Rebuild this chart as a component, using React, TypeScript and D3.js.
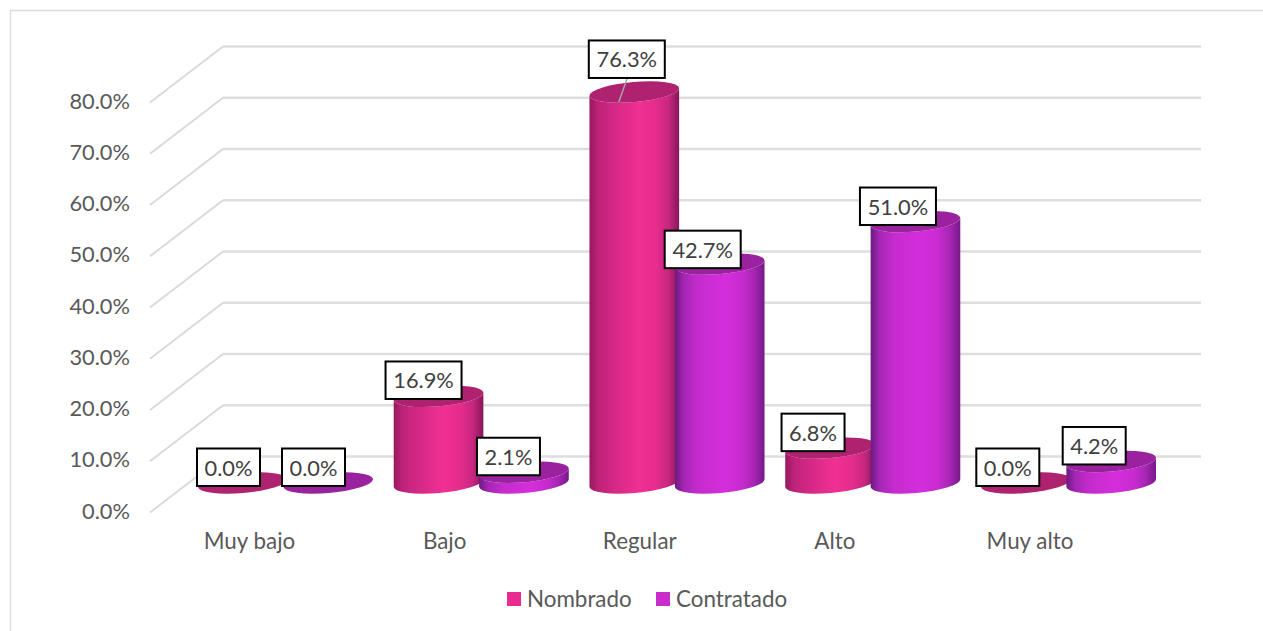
import React from "react";
import * as d3 from "d3";

const categories = ["Muy bajo", "Bajo", "Regular", "Alto", "Muy alto"];
const nombrado = [0.0, 16.9, 76.3, 6.8, 0.0];
const contratado = [0.0, 2.1, 42.7, 51.0, 4.2];
const tickValues = [0, 10, 20, 30, 40, 50, 60, 70, 80];
const seriesNames = ["Nombrado", "Contratado"];

// Hand-placed data label offsets from each cylinder's top centre [dx, dy].
const nombradoLabelOffset: [number, number][] = [[-14.3, -16], [-15, -16.4], [-7.5, -33], [-17, -16], [-18, -16]];
const contratadoLabelOffset: [number, number][] = [[-14.7, -16], [-15.5, -16], [-17, -15], [-17.5, -15.6], [-17, -16]];

const palettes = [
  { id: "pink", stops: ["#96195F", "#BE2379", "#D22784", "#F03093", "#E42C8C", "#C92680", "#851858"], top: "#AE226F", swatch: "#E92A8F" },
  { id: "purple", stops: ["#6C1A80", "#A426B4", "#C42BCC", "#D42EDC", "#C82BD0", "#A826B4", "#76198A"], top: "#9A229E", swatch: "#C92CCB" },
];
const stopOffsets = [0, 0.1, 0.25, 0.55, 0.75, 0.88, 1];

const FRONT_X = 150;
const BACK_X = 223;
const RIGHT_X = 1201;
const DEPTH_Y = 56;
const BASE_Y = 483;
const RX = 45;
const RY = 10;
const TILT = -5;
const BAR_OFFSET = 42.7;

const FONT = "Lato, Carlito, sans-serif";
const NUM_SIZE = 21.8;
const TEXT_SIZE = 22.4;

const y = d3.scaleLinear().domain([0, 80]).range([456.5, 46.5]);
const xCat = d3.scalePoint<string>().domain(categories).range([285.5, 1068.5]);
const xCatLabel = d3.scalePoint<string>().domain(categories).range([249.5, 1030]);

const tiltRad = (TILT * Math.PI) / 180;
const dx = RX * Math.cos(tiltRad);
const dy = RX * Math.sin(tiltRad);

function Cylinder({ cx, value, p }: { cx: number; value: number; p: (typeof palettes)[number] }) {
  const h = y(0) - y(value);
  const top = BASE_Y - h;
  const arc = (sweep: number, ex: number, ey: number) => `A${RX},${RY} ${TILT} 0 ${sweep} ${ex},${ey}`;
  const body =
    `M${cx - dx},${top - dy} L${cx - dx},${BASE_Y - dy} ` +
    arc(0, cx + dx, BASE_Y + dy) +
    ` L${cx + dx},${top + dy} ` +
    arc(1, cx - dx, top - dy) +
    " Z";
  const lid =
    `M${cx - dx},${top - dy} ` + arc(1, cx + dx, top + dy) + " " + arc(1, cx - dx, top - dy) + " Z";
  return (
    <g>
      <path d={body} fill={`url(#grad-${p.id})`} />
      <path d={lid} fill={p.top} />
    </g>
  );
}

function ValueLabel({ cx, cy, value }: { cx: number; cy: number; value: number }) {
  const halfW = value >= 10 ? 38 : 31.5;
  return (
    <g>
      <rect x={cx - halfW} y={cy - 18.5} width={halfW * 2} height={37.5} fill="#fff" stroke="#000" strokeWidth={2} />
      <text x={cx} y={cy + 8.5} textAnchor="middle" fontSize={NUM_SIZE} fontFamily={FONT} fill="#404040">
        {d3.format(".1f")(value)}%
      </text>
    </g>
  );
}

export default function App() {
  const series = [nombrado, contratado];
  const offsets = [nombradoLabelOffset, contratadoLabelOffset];
  const centre = (cat: string, s: number) => (xCat(cat) as number) + (s === 0 ? -BAR_OFFSET : BAR_OFFSET);
  const topOf = (v: number) => BASE_Y - (y(0) - y(v));

  const order = categories.flatMap((c, i) => [0, 1].map((s) => ({ c, i, s })));

  const leaderTop = topOf(nombrado[2]);
  const leaderCx = centre("Regular", 0);

  return (
    <svg
      width={1263}
      height={631}
      style={{ position: "absolute", left: 0, top: 0 }}
      viewBox="0 0 1263 631"
    >
      <defs>
        {palettes.map((p) => (
          <linearGradient key={p.id} id={`grad-${p.id}`} x1="0" x2="1" y1="0" y2="0">
            {p.stops.map((col, i) => (
              <stop key={i} offset={stopOffsets[i]} stopColor={col} />
            ))}
          </linearGradient>
        ))}
      </defs>

      <rect width={1263} height={631} fill="#fff" />
      <path d="M10.5,631 V10.5 H1263" fill="none" stroke="#DCDCDC" strokeWidth={1.4} />

      {/* Back wall and side wall gridlines */}
      {tickValues.map((t) => (
        <g key={t}>
          <line x1={BACK_X} x2={RIGHT_X} y1={y(t)} y2={y(t)} stroke="#DEDEDE" strokeWidth={2.4} />
          <line x1={FRONT_X} x2={BACK_X} y1={y(t) + DEPTH_Y} y2={y(t)} stroke="#D9D9D9" strokeWidth={1.8} />
          <text x={130} y={y(t) + DEPTH_Y + 6} textAnchor="end" fontSize={NUM_SIZE} fontFamily={FONT} fill="#595959">
            {d3.format(".1f")(t)}%
          </text>
        </g>
      ))}

      {order.map(({ c, i, s }) => (
        <Cylinder key={`${c}-${s}`} cx={centre(c, s)} value={series[s][i]} p={palettes[s]} />
      ))}

      <line x1={leaderCx - 7} y1={leaderTop - 14} x2={leaderCx - 15.5} y2={leaderTop + 10} stroke="#A6A6A6" strokeWidth={1.5} />

      {order.map(({ c, i, s }) => (
        <ValueLabel
          key={`lab-${c}-${s}`}
          cx={centre(c, s) + offsets[s][i][0]}
          cy={topOf(series[s][i]) + offsets[s][i][1]}
          value={series[s][i]}
        />
      ))}

      {categories.map((c) => (
        <text key={c} x={xCatLabel(c) as number} y={549} textAnchor="middle" fontSize={TEXT_SIZE} fontFamily={FONT} fill="#595959">
          {c}
        </text>
      ))}

      {/* Legend */}
      {seriesNames.map((name, i) => (
        <g key={name}>
          <rect x={i === 0 ? 507 : 656} y={592} width={14} height={14} fill={palettes[i].swatch} />
          <text x={i === 0 ? 527 : 676} y={606.5} fontSize={TEXT_SIZE} fontFamily={FONT} fill="#595959">
            {name}
          </text>
        </g>
      ))}
    </svg>
  );
}
